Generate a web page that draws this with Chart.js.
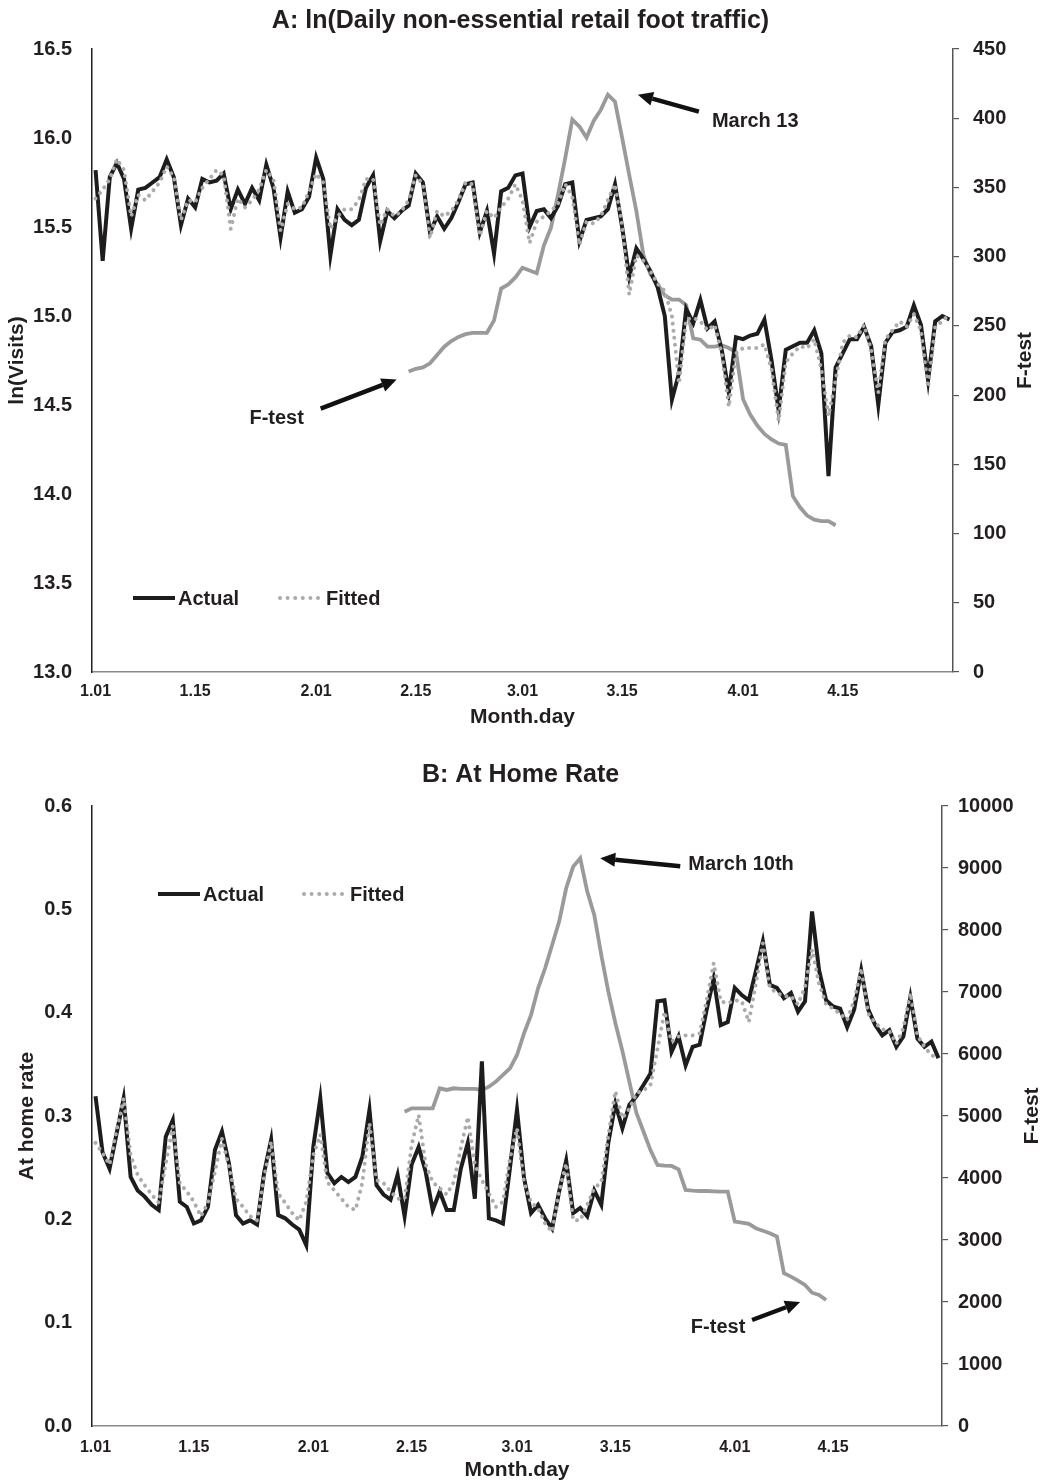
<!DOCTYPE html>
<html>
<head>
<meta charset="utf-8">
<script src="https://cdn.jsdelivr.net/npm/chart.js@4.4.1/dist/chart.umd.min.js"></script>
<style>
  html, body { margin: 0; padding: 0; background: #ffffff; }
  #wrapA { position: absolute; left: 0; top: 0; width: 1041px; height: 735px; }
  #wrapB { position: absolute; left: 0; top: 735px; width: 1041px; height: 748px; }
</style>
</head>
<body>
<div id="wrapA"><canvas id="chartA" width="1041" height="735"></canvas></div>
<div id="wrapB"><canvas id="chartB" width="1041" height="748"></canvas></div>
<script>
// ---------- categories (Jan 1 – Apr 30, 2020) ----------
const monthLengths = [31, 29, 31, 30];
const categories = [];
monthLengths.forEach((n, m) => {
  for (let d = 1; d <= n; d++) categories.push((m + 1) + '.' + String(d).padStart(2, '0'));
});
const tickLabels = ['1.01', '1.15', '2.01', '2.15', '3.01', '3.15', '4.01', '4.15'];

// ---------- Panel A: ln(daily non-essential retail foot traffic) ----------
const actualA = [
  15.82,15.31,15.78,15.86,15.77,15.49,15.71,15.72,15.75,15.78,
  15.88,15.78,15.51,15.66,15.61,15.77,15.75,15.76,15.80,15.60,
  15.71,15.63,15.72,15.65,15.85,15.72,15.44,15.70,15.58,15.60,
  15.67,15.89,15.77,15.34,15.60,15.54,15.51,15.54,15.72,15.79,
  15.42,15.59,15.55,15.59,15.62,15.80,15.75,15.47,15.56,15.49,
  15.55,15.64,15.74,15.75,15.47,15.59,15.35,15.70,15.72,15.79,
  15.80,15.50,15.59,15.60,15.55,15.62,15.74,15.75,15.42,15.54,
  15.55,15.56,15.60,15.74,15.50,15.22,15.38,15.32,15.25,15.16,
  15.00,14.53,14.68,15.04,14.96,15.09,14.93,14.97,14.81,14.57,
  14.88,14.87,14.89,14.90,14.98,14.75,14.47,14.81,14.83,14.85,
  14.85,14.92,14.79,14.10,14.71,14.79,14.87,14.87,14.94,14.83,
  14.50,14.85,14.91,14.92,14.94,15.06,14.95,14.64,14.97,15.00,
  14.98
];
const fittedA = [
  15.66,15.71,15.77,15.88,15.82,15.56,15.68,15.65,15.70,15.75,
  15.84,15.78,15.54,15.65,15.64,15.72,15.77,15.82,15.79,15.49,
  15.66,15.61,15.65,15.71,15.82,15.77,15.48,15.63,15.60,15.61,
  15.70,15.80,15.75,15.49,15.56,15.60,15.60,15.65,15.77,15.77,
  15.51,15.60,15.56,15.59,15.65,15.79,15.74,15.44,15.59,15.56,
  15.59,15.65,15.75,15.74,15.45,15.59,15.55,15.61,15.66,15.74,
  15.65,15.41,15.53,15.56,15.59,15.63,15.74,15.67,15.40,15.53,
  15.52,15.56,15.65,15.74,15.51,15.12,15.34,15.31,15.25,15.18,
  15.14,15.00,14.62,14.98,14.99,14.97,14.92,14.95,14.79,14.49,
  14.79,14.82,14.82,14.82,14.84,14.70,14.41,14.74,14.79,14.83,
  14.82,14.87,14.70,14.44,14.64,14.85,14.89,14.88,14.95,14.81,
  14.57,14.87,14.92,14.97,14.94,15.01,14.92,14.60,14.94,14.97,
  15.01
];
const ftestStartA = '2.14';   // first day with an F-test value
const ftestA = [
  217,219,220,223,229,235,239,242,244,245,
  245,245,254,277,280,285,292,290,288,308,
  321,345,371,399,394,386,398,406,417,412,
  386,359,333,301,287,280,272,269,269,265,
  241,240,235,235,236,234,231,197,186,178,
  172,168,165,164,127,119,113,110,109,109,
  106
];

// ---------- Panel B: At home rate ----------
const actualB = [
  0.319,0.265,0.249,0.283,0.317,0.241,0.228,0.222,0.214,0.209,
  0.280,0.296,0.217,0.212,0.196,0.199,0.212,0.267,0.285,0.254,
  0.204,0.196,0.199,0.195,0.245,0.277,0.204,0.201,0.195,0.190,
  0.175,0.270,0.317,0.245,0.235,0.241,0.236,0.241,0.261,0.306,
  0.233,0.224,0.219,0.243,0.203,0.253,0.270,0.246,0.209,0.227,
  0.209,0.209,0.249,0.274,0.220,0.353,0.201,0.199,0.196,0.250,
  0.306,0.240,0.206,0.214,0.201,0.191,0.227,0.257,0.206,0.211,
  0.203,0.228,0.214,0.274,0.312,0.288,0.311,0.319,0.330,0.341,
  0.411,0.412,0.362,0.377,0.349,0.367,0.369,0.403,0.433,0.388,
  0.391,0.424,0.417,0.412,0.440,0.469,0.427,0.424,0.414,0.419,
  0.401,0.411,0.498,0.441,0.412,0.406,0.404,0.386,0.403,0.441,
  0.403,0.388,0.378,0.383,0.367,0.377,0.415,0.375,0.367,0.372,
  0.356
];
const fittedB = [
  0.274,0.264,0.253,0.286,0.317,0.262,0.243,0.233,0.224,0.216,
  0.254,0.290,0.235,0.227,0.217,0.203,0.216,0.246,0.278,0.251,
  0.220,0.212,0.203,0.199,0.241,0.275,0.225,0.216,0.206,0.199,
  0.217,0.262,0.282,0.236,0.228,0.220,0.212,0.209,0.236,0.293,
  0.238,0.235,0.227,0.220,0.220,0.272,0.301,0.253,0.236,0.230,
  0.224,0.236,0.269,0.299,0.253,0.238,0.225,0.212,0.217,0.259,
  0.288,0.236,0.216,0.211,0.196,0.188,0.227,0.254,0.199,0.199,
  0.214,0.230,0.236,0.281,0.324,0.298,0.307,0.322,0.325,0.330,
  0.365,0.401,0.372,0.377,0.378,0.378,0.380,0.412,0.448,0.411,
  0.409,0.412,0.411,0.391,0.428,0.467,0.424,0.419,0.416,0.416,
  0.408,0.425,0.461,0.428,0.408,0.404,0.399,0.393,0.412,0.443,
  0.399,0.390,0.384,0.382,0.370,0.385,0.419,0.378,0.367,0.359,
  0.355
];
const ftestStartB = '2.14';
const ftestB = [
  5070,5124,5124,5124,5124,5447,5420,5447,5436,5436,
  5436,5420,5473,5554,5662,5769,5984,6334,6630,7060,
  7383,7759,8135,8673,9022,9157,8619,8242,7597,7006,
  6500,6050,5550,5050,4750,4450,4210,4200,4194,4140,
  3807,3796,3790,3790,3785,3780,3780,3296,3280,3260,
  3190,3150,3108,3055,2463,2409,2345,2275,2150,2114,
  2032
];

// ---------- styling ----------
const FONT = '"Liberation Sans", Arial, Helvetica, sans-serif';
Chart.defaults.font.family = FONT;
const INK = '#231f20';
const ACTUAL_COLOR = '#1f1c1d';
const FITTED_COLOR = '#ababab';
const FTEST_COLOR = '#9a9a9a';

// place an F-test series on the category axis starting at its first date
function alignToCategories(startLabel, values) {
  const start = categories.indexOf(startLabel);
  return categories.map((_, i) => (i >= start && i < start + values.length) ? values[i - start] : null);
}
const ftestSeriesA = alignToCategories(ftestStartA, ftestA);
const ftestSeriesB = alignToCategories(ftestStartB, ftestB);

function drawArrow(ctx, x0, y0, x1, y1) {
  const ang = Math.atan2(y1 - y0, x1 - x0);
  const headL = 15, headW = 7;
  const bx = x1 - headL * Math.cos(ang), by = y1 - headL * Math.sin(ang);
  ctx.save();
  ctx.strokeStyle = '#111';
  ctx.fillStyle = '#111';
  ctx.lineWidth = 4.4;
  ctx.lineCap = 'butt';
  ctx.setLineDash([]);
  ctx.beginPath(); ctx.moveTo(x0, y0); ctx.lineTo(bx, by); ctx.stroke();
  ctx.beginPath();
  ctx.moveTo(x1, y1);
  ctx.lineTo(bx + headW * Math.sin(ang), by - headW * Math.cos(ang));
  ctx.lineTo(bx - headW * Math.sin(ang), by + headW * Math.cos(ang));
  ctx.closePath(); ctx.fill();
  ctx.restore();
}

const annotPlugin = {
  id: 'annot',
  afterDraw(chart, args, opts) {
    const ctx = chart.ctx;
    const xs = chart.scales.x, y2 = chart.scales.y2;
    ctx.save();
    ctx.font = 'bold 20px ' + FONT;
    ctx.fillStyle = INK;
    ctx.textBaseline = 'middle';
    // legend
    const L = opts.legend;
    ctx.strokeStyle = ACTUAL_COLOR; ctx.lineWidth = 4.2; ctx.lineCap = 'butt';
    ctx.beginPath(); ctx.moveTo(L.x, L.y); ctx.lineTo(L.x + 42, L.y); ctx.stroke();
    ctx.textAlign = 'left';
    ctx.fillText('Actual', L.x + 45, L.y + 1);
    ctx.save();
    ctx.strokeStyle = FITTED_COLOR; ctx.lineWidth = 4; ctx.lineCap = 'round';
    ctx.setLineDash([0.001, 7.6]);
    ctx.beginPath(); ctx.moveTo(L.x2, L.y); ctx.lineTo(L.x2 + 40, L.y); ctx.stroke();
    ctx.restore();
    ctx.fillText('Fitted', L.x2 + 46, L.y + 1);
    // arrows + notes anchored on F-test points
    opts.arrows.forEach(a => {
      const px = xs.getPixelForValue(a.index);
      const py = y2.getPixelForValue(a.value);
      drawArrow(ctx, px + a.tail[0], py + a.tail[1], px + a.tip[0], py + a.tip[1]);
      ctx.textAlign = a.align;
      ctx.fillText(a.text, px + a.label[0], py + a.label[1]);
    });
    // right axis title (reads bottom-to-top)
    const ca = chart.chartArea;
    ctx.save();
    ctx.font = 'bold 21px ' + FONT;
    ctx.translate(opts.rightTitle.x, (ca.top + ca.bottom) / 2);
    ctx.rotate(-Math.PI / 2);
    ctx.textAlign = 'center';
    ctx.fillText(opts.rightTitle.text, 0, 0);
    ctx.restore();
    ctx.restore();
  }
};

function buildChart(canvasId, spec) {
  return new Chart(document.getElementById(canvasId), {
    type: 'line',
    data: {
      labels: categories,
      datasets: [
        { label: 'Fitted', data: spec.fitted, yAxisID: 'y', borderColor: FITTED_COLOR, borderWidth: 4,
          borderDash: [0.001, 7.1], borderCapStyle: 'round', pointRadius: 0, tension: 0, fill: false },
        { label: 'Actual', data: spec.actual, yAxisID: 'y', borderColor: ACTUAL_COLOR, borderWidth: 4,
          pointRadius: 0, tension: 0, fill: false },
        { label: 'F-test', data: spec.ftest, yAxisID: 'y2', borderColor: FTEST_COLOR, borderWidth: 3.8,
          pointRadius: 0, tension: 0, fill: false, spanGaps: false }
      ]
    },
    options: {
      responsive: false,
      animation: false,
      devicePixelRatio: 1,
      layout: { padding: 0 },
      plugins: {
        legend: { display: false },
        tooltip: { enabled: false },
        title: { display: true, text: spec.title, color: INK,
                 font: { size: 25, weight: 'bold' }, padding: spec.titlePad },
        annot: spec.annot
      },
      scales: {
        x: {
          type: 'category', offset: true,
          grid: { display: true, drawOnChartArea: false, drawTicks: false },
          border: { display: true, color: '#8a8a8a', width: 1.5 },
          ticks: { autoSkip: false, maxRotation: 0, minRotation: 0, padding: spec.xTickPad, color: INK,
                   font: { size: 16, weight: 'bold' },
                   callback: (v, i) => tickLabels.includes(categories[i]) ? categories[i] : null },
          title: { display: true, text: 'Month.day', color: INK, font: { size: 21, weight: 'bold' },
                   padding: { top: 0, bottom: spec.xTitlePad } },
          afterFit: s => { s.height = spec.xHeight; }
        },
        y: {
          position: 'left', min: spec.yMin, max: spec.yMax,
          ticks: { stepSize: spec.yStep, padding: 20, color: INK, font: { size: 20, weight: 'bold' },
                   callback: v => Number(v).toFixed(1) },
          grid: { display: true, drawOnChartArea: false, drawTicks: false },
          border: { display: true, color: '#231f20', width: 1.5 },
          title: { display: true, text: spec.yTitle, color: INK, font: { size: 21, weight: 'bold' },
                   padding: { top: spec.yTitlePad, bottom: 0 } },
          afterFit: s => { s.width = 92; }
        },
        y2: {
          position: 'right', min: 0, max: spec.y2Max,
          ticks: { stepSize: spec.y2Step, padding: spec.y2Pad, color: INK, font: { size: 20, weight: 'bold' },
                   callback: v => String(v) },
          grid: { display: true, drawOnChartArea: false, drawTicks: true, tickLength: 6, color: '#555', lineWidth: 1.2 },
          border: { display: true, color: '#555', width: 1.5 },
          title: { display: false },
          afterFit: s => { s.width = spec.y2Width; }
        }
      }
    },
    plugins: [annotPlugin]
  });
}

buildChart('chartA', {
  title: 'A: ln(Daily non-essential retail foot traffic)',
  titlePad: { top: 6, bottom: 13 },
  actual: actualA, fitted: fittedA, ftest: ftestSeriesA,
  yMin: 13, yMax: 16.5, yStep: 0.5, yTitle: 'ln(Visits)', yTitlePad: 5,
  y2Max: 450, y2Step: 50, y2Pad: 14, y2Width: 88,
  xHeight: 63, xTickPad: 10, xTitlePad: 5,
  annot: {
    legend: { x: 133, y: 598, x2: 280 },
    arrows: [
      { text: 'March 13', index: categories.indexOf('3.13'), value: ftestSeriesA[categories.indexOf('3.13')],
        tip: [30, 0], tail: [91, 17], label: [104, 27], align: 'left' },
      { text: 'F-test', index: categories.indexOf(ftestStartA), value: ftestSeriesA[categories.indexOf(ftestStartA)],
        tip: [-12, 8], tail: [-88, 37], label: [-132, 47], align: 'center' }
    ],
    rightTitle: { text: 'F-test', x: 1025 }
  }
});

buildChart('chartB', {
  title: 'B: At Home Rate',
  titlePad: { top: 25, bottom: 16 },
  actual: actualB, fitted: fittedB, ftest: ftestSeriesB,
  yMin: 0, yMax: 0.6, yStep: 0.1, yTitle: 'At home rate', yTitlePad: 15,
  y2Max: 10000, y2Step: 1000, y2Pad: 10, y2Width: 99,
  xHeight: 57, xTickPad: 12, xTitlePad: 0,
  annot: {
    legend: { x: 158, y: 159, x2: 304 },
    arrows: [
      { text: 'March 10th', index: categories.indexOf('3.10'), value: ftestSeriesB[categories.indexOf('3.10')],
        tip: [20, 0], tail: [100, 8], label: [108, 6], align: 'left' },
      { text: 'F-test', index: categories.indexOf('4.14'), value: ftestSeriesB[categories.indexOf('4.14')],
        tip: [-26, 2], tail: [-74, 20], label: [-108, 27], align: 'center' }
    ],
    rightTitle: { text: 'F-test', x: 1032 }
  }
});
</script>
</body>
</html>
